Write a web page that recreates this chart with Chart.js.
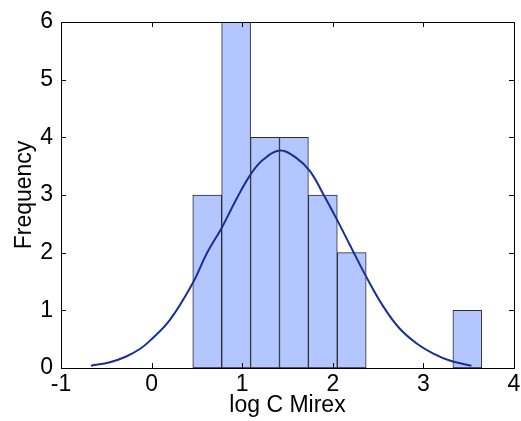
<!DOCTYPE html>
<html>
<head>
<meta charset="utf-8">
<script src="https://cdn.jsdelivr.net/npm/chart.js@4.4.1/dist/chart.umd.min.js"></script>
<style>
  html, body { margin: 0; padding: 0; background: #fff; }
  #wrap { width: 521px; height: 421px; }
</style>
</head>
<body>
<div id="wrap"><canvas id="histChart" width="521" height="421"></canvas></div>
<script>
// histogram bins (centres) and counts
var binCenters = [0.614, 0.933, 1.252, 1.571, 1.890, 2.209, 2.528, 2.847, 3.166, 3.485];
var counts = [3, 6, 4, 4, 3, 2, 0, 0, 0, 1];

// fitted curve
var curveX = [-0.67, -0.46, -0.28, -0.13, -0.02, 0.20, 0.45, 0.61, 0.77, 0.94, 1.09, 1.23, 1.42,
              1.60, 1.75, 1.90, 2.04, 2.19, 2.37, 2.56, 2.74, 2.93, 3.11, 3.29, 3.53];
var curveY = [0.04, 0.10, 0.20, 0.33, 0.47, 0.83, 1.46, 1.99, 2.42, 2.94, 3.35, 3.61, 3.77,
              3.64, 3.41, 3.00, 2.59, 2.13, 1.58, 1.06, 0.68, 0.42, 0.25, 0.13, 0.04];

// axis ticks
var xTicks = [-1, 0, 1, 2, 3, 4];
var yTicks = [0, 1, 2, 3, 4, 5, 6];

Chart.defaults.font.family = "'Liberation Sans', Arial, sans-serif";
Chart.defaults.font.size = 23;
Chart.defaults.color = '#000';

// box round the plot and inward tick marks (matlab style)
var frameTicks = {
    id: 'frameTicks',
    afterDatasetsDraw: function(chart) {
        var c = chart.ctx, a = chart.chartArea;
        var xs = chart.scales.x, ys = chart.scales.y;
        var len = 5;
        c.save();
        c.strokeStyle = '#000';
        c.lineWidth = 1;
        c.beginPath();
        xTicks.forEach(function(v) {
            var px = Math.round(xs.getPixelForValue(v)) + 0.5;
            c.moveTo(px, a.bottom); c.lineTo(px, a.bottom - len);
            c.moveTo(px, a.top); c.lineTo(px, a.top + len);
        });
        yTicks.forEach(function(v) {
            var py = Math.round(ys.getPixelForValue(v)) + 0.5;
            c.moveTo(a.left, py); c.lineTo(a.left + len, py);
            c.moveTo(a.right, py); c.lineTo(a.right - len, py);
        });
        c.stroke();
        c.strokeRect(Math.round(a.left) + 0.5, Math.round(a.top) + 0.5,
                     Math.round(a.right - a.left), Math.round(a.bottom - a.top));
        c.restore();
    }
};

var ctx = document.getElementById('histChart').getContext('2d');
var histChart = new Chart(ctx, {
    type: 'bar',
    data: {
        datasets: [{
            type: 'line',
            data: curveX.map(function(x, i) { return { x: x, y: curveY[i] }; }),
            borderColor: '#1a2f96',
            borderWidth: 2,
            pointRadius: 0,
            tension: 0.4,
            fill: false,
            order: 0
        }, {
            type: 'bar',
            data: binCenters.map(function(x, i) { return { x: x, y: counts[i] }; }),
            backgroundColor: '#b3c6ff',
            borderColor: '#2b2b2b',
            borderWidth: 1,
            borderSkipped: false,
            barPercentage: 1,
            categoryPercentage: 1,
            order: 1
        }]
    },
    options: {
        responsive: false,
        animation: false,
        layout: { padding: { top: 22, right: 7, left: 0, bottom: 0 } },
        plugins: {
            legend: { display: false },
            tooltip: { enabled: false }
        },
        scales: {
            x: {
                type: 'linear',
                offset: false,
                min: -1,
                max: 4,
                grid: { display: false, drawTicks: false },
                border: { display: false },
                afterBuildTicks: function(s) { s.ticks = xTicks.map(function(v) { return { value: v }; }); },
                afterFit: function(s) { s.height = 53; s.paddingLeft = 0; s.paddingRight = 0; },
                ticks: { padding: 3, maxRotation: 0 },
                title: { display: true, text: 'log C Mirex', padding: { top: 0, bottom: 2 } }
            },
            y: {
                min: 0,
                max: 6,
                grid: { display: false, drawTicks: false },
                border: { display: false },
                afterBuildTicks: function(s) { s.ticks = yTicks.map(function(v) { return { value: v }; }); },
                afterFit: function(s) { s.width = 61; s.paddingTop = 0; s.paddingBottom = 0; },
                ticks: { padding: 8 },
                title: { display: true, text: 'Frequency', padding: { top: 11, bottom: 0 } }
            }
        }
    },
    plugins: [frameTicks]
});
</script>
</body>
</html>
